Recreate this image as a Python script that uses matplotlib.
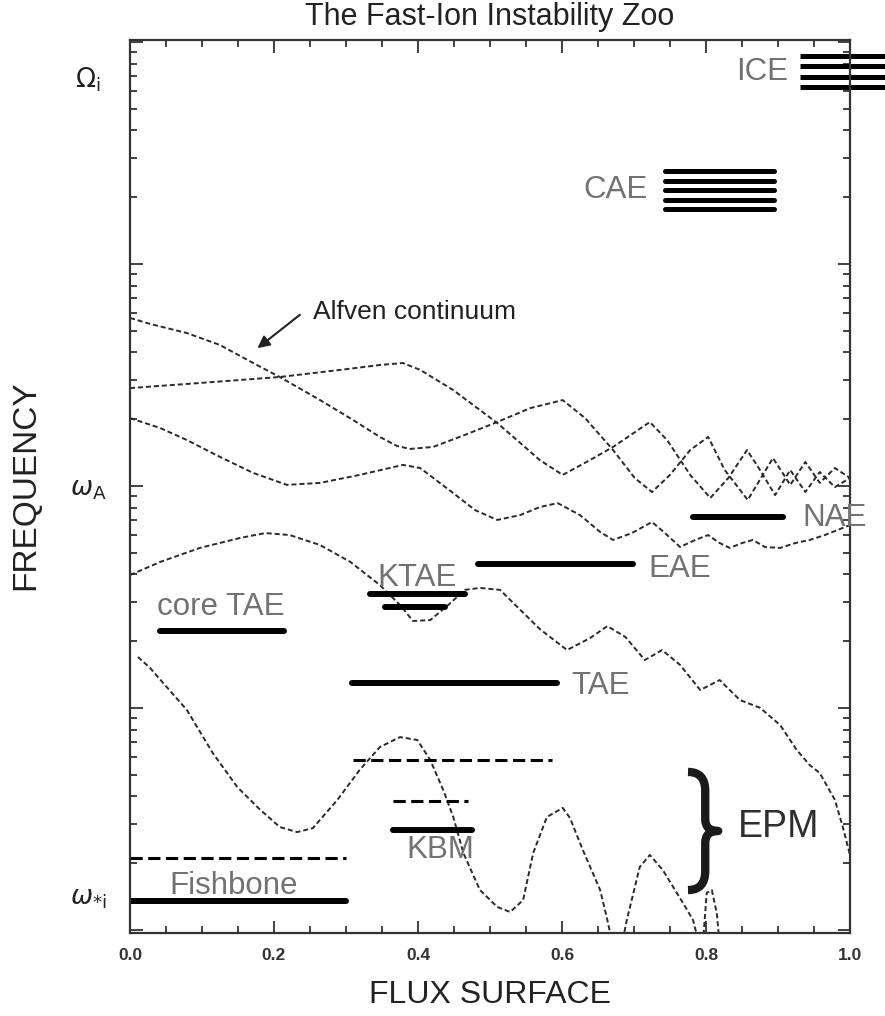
import numpy as np
import matplotlib
matplotlib.use("Agg")
import matplotlib.pyplot as plt
from matplotlib.path import Path
from matplotlib.patches import PathPatch
from matplotlib.transforms import Affine2D
from matplotlib.ticker import MultipleLocator, FixedLocator, LogLocator, NullFormatter

plt.rcParams['font.family'] = ['Liberation Sans', 'DejaVu Sans']
plt.rcParams['mathtext.fontset'] = 'dejavusans'

# ---------------- data (x = flux surface, y = log10 frequency, arbitrary units) -------------
alfven_a_x = [0.000, 0.028, 0.079, 0.125, 0.171, 0.208, 0.264, 0.310, 0.347, 0.371, 0.389, 0.421,
              0.465, 0.510, 0.556, 0.601, 0.632, 0.671, 0.701, 0.725, 0.750, 0.778, 0.803, 0.826,
              0.858, 0.893, 0.917, 0.938, 0.958, 0.979, 1.000]
alfven_a_l = [2.757, 2.730, 2.689, 2.635, 2.554, 2.491, 2.387, 2.297, 2.221, 2.180, 2.167, 2.176,
              2.230, 2.288, 2.351, 2.387, 2.306, 2.162, 2.036, 1.973, 2.050, 2.162, 2.221, 2.072,
              1.937, 2.126, 2.005, 2.108, 2.014, 2.081, 2.036]

alfven_b_x = [0.000, 0.097, 0.208, 0.292, 0.347, 0.379, 0.403, 0.449, 0.486, 0.510, 0.542, 0.569,
              0.601, 0.639, 0.671, 0.722, 0.746, 0.778, 0.806, 0.831, 0.857, 0.875, 0.896, 0.917,
              0.938, 0.958, 0.979, 1.000]
alfven_b_l = [2.441, 2.464, 2.491, 2.523, 2.545, 2.554, 2.523, 2.432, 2.342, 2.284, 2.194, 2.117,
              2.050, 2.117, 2.176, 2.288, 2.207, 2.050, 1.946, 2.036, 2.162, 2.072, 1.959, 2.072,
              1.973, 2.063, 1.995, 2.036]

alfven_c_x = [0.000, 0.042, 0.079, 0.125, 0.171, 0.218, 0.264, 0.319, 0.379, 0.403, 0.449, 0.479,
              0.510, 0.542, 0.569, 0.594, 0.625, 0.653, 0.671, 0.697, 0.725, 0.743, 0.764, 0.785,
              0.803, 0.819, 0.833, 0.850, 0.865, 0.882, 0.903, 0.924, 0.944, 0.965, 1.000]
alfven_c_l = [2.306, 2.261, 2.207, 2.131, 2.059, 2.005, 2.014, 2.050, 2.095, 2.081, 1.968, 1.892,
              1.847, 1.869, 1.905, 1.923, 1.869, 1.793, 1.757, 1.788, 1.838, 1.788, 1.725, 1.757,
              1.779, 1.743, 1.721, 1.743, 1.757, 1.725, 1.721, 1.743, 1.757, 1.779, 1.824]

tae_gap_x = [0.000, 0.042, 0.097, 0.153, 0.188, 0.222, 0.264, 0.306, 0.347, 0.375, 0.393, 0.417,
             0.442, 0.465, 0.486, 0.514, 0.538, 0.569, 0.607, 0.639, 0.663, 0.688, 0.715, 0.739,
             0.764, 0.792, 0.819, 0.847, 0.875, 0.903, 0.926, 0.944, 0.958, 0.979, 0.990, 1.000]
tae_gap_l = [1.599, 1.658, 1.721, 1.766, 1.788, 1.779, 1.734, 1.658, 1.554, 1.464, 1.392, 1.396,
             1.464, 1.532, 1.541, 1.532, 1.455, 1.356, 1.261, 1.315, 1.369, 1.320, 1.216, 1.261,
             1.194, 1.081, 1.126, 1.036, 1.001, 0.923, 0.811, 0.743, 0.707, 0.586, 0.464, 0.338]

low_x = [0.011, 0.028, 0.046, 0.079, 0.115, 0.149, 0.181, 0.208, 0.232, 0.254, 0.288, 0.319,
         0.347, 0.375, 0.399, 0.417, 0.435, 0.449, 0.463, 0.486, 0.510, 0.528, 0.546, 0.560,
         0.579, 0.601, 0.611, 0.629, 0.653, 0.663, 0.669, 0.683, 0.690, 0.708, 0.722, 0.740,
         0.768, 0.782, 0.789, 0.796, 0.801, 0.808, 0.815, 0.819]
low_l = [1.230, 1.180, 1.113, 0.991, 0.797, 0.644, 0.541, 0.464, 0.441, 0.459, 0.586, 0.721,
         0.824, 0.869, 0.856, 0.766, 0.631, 0.509, 0.347, 0.180, 0.104, 0.081, 0.135, 0.347,
         0.509, 0.550, 0.505, 0.360, 0.180, 0.045, -0.045, -0.068, 0.045, 0.284, 0.338, 0.270,
         0.122, 0.045, -0.045, -0.045, 0.167, 0.180, 0.077, -0.068]

# mode bands: (label, x0, x1, log10 level)
solid_bands = [
    ("NAE", 0.782, 0.907, 1.860),
    ("EAE", 0.483, 0.699, 1.649),
    ("KTAE", 0.333, 0.465, 1.514),
    ("KTAE", 0.354, 0.438, 1.455),
    ("core TAE", 0.042, 0.214, 1.347),
    ("TAE", 0.308, 0.593, 1.113),
    ("KBM", 0.365, 0.475, 0.450),
    ("Fishbone", 0.000, 0.300, 0.131),
]
dashed_bands = [
    ("TAE-EPM", 0.310, 0.586, 0.766),
    ("KBM", 0.365, 0.470, 0.581),
    ("Fishbone", 0.000, 0.300, 0.324),
]
cae_levels = [3.419, 3.374, 3.333, 3.288, 3.248]
cae_x = [0.743, 0.894]
ice_levels = [3.937, 3.892, 3.842, 3.797]
ice_x = [0.931, 1.049]

# labels: (text, x, log10 level)
mode_labels = [
    ("ICE", 0.878, 3.865), ("CAE", 0.674, 3.333), ("NAE", 0.978, 1.856),
    ("EAE", 0.764, 1.626), ("KTAE", 0.399, 1.586), ("core TAE", 0.126, 1.455),
    ("TAE", 0.653, 1.099), ("KBM", 0.431, 0.360), ("Fishbone", 0.144, 0.198),
]
freq_labels = [(r'$\Omega_\mathrm{i}$', 3.83), (r'$\omega_\mathrm{A}$', 1.98), (r'$\omega_{*\mathrm{i}}$', 0.14)]
x_ticks = [0.0, 0.2, 0.4, 0.6, 0.8, 1.0]
x_tick_labels = ["0.0", "0.2", "0.4", "0.6", "0.8", "1.0"]

# EPM brace: x0, x1, log10 bottom, log10 top
brace = [0.775, 0.817, 0.180, 0.712]

# ---------------- figure -------------------------------------------------------------------
fig = plt.figure(figsize=(8.85, 10.16), dpi=100)
ax = fig.add_axes([130/885, 83/1016, 720/885, 893/1016])
ax.set_yscale('log')
ax.set_xlim(0, 1)
ax.set_ylim(10**(-0.0135), 10**4.009)

p = lambda l: 10.0 ** np.asarray(l)
curve_kw = dict(color='#2a2a2a', lw=1.4, linestyle=(0, (2.6, 1.5)))
for xs, ls in [(alfven_a_x, alfven_a_l), (alfven_b_x, alfven_b_l), (alfven_c_x, alfven_c_l),
               (tae_gap_x, tae_gap_l), (low_x, low_l)]:
    ax.plot(xs, p(ls), **curve_kw)

for _, x0, x1, l in solid_bands:
    ax.plot([x0, x1], p([l, l]), color='black', lw=4.3, solid_capstyle='round')
for _, x0, x1, l in dashed_bands:
    ax.plot([x0, x1], p([l, l]), color='black', lw=2.2, linestyle=(0, (4, 1.8)))
for l in cae_levels:
    ax.plot(cae_x, p([l, l]), color='black', lw=3.6, solid_capstyle='round')
for l in ice_levels:
    ax.plot(ice_x, p([l, l]), color='black', lw=3.6, solid_capstyle='butt', clip_on=False)

gray = '#727272'
for t, x, l in mode_labels:
    ax.text(x, p(l), t, color=gray, fontsize=22.5, ha='center', va='center')
ax.text(0.901, p(0.464), "EPM", color='#2e2e2e', fontsize=27, ha='center', va='center')

ax.text(0.254, p(2.784), "Alfven continuum", color='#222222', fontsize=19, ha='left', va='center')
ax.annotate("", xy=(0.174, p(2.613)), xytext=(0.239, p(2.779)),
            arrowprops=dict(arrowstyle='-|>', color='#222222', lw=1.5, mutation_scale=18))

# curly brace for EPM
bx0, bx1, bl0, bl1 = brace
verts = [(0, 1), (0.57, 1), (0.57, 0.84), (0.57, 0.6), (0.57, 0.5), (1, 0.5),
         (0.57, 0.5), (0.57, 0.4), (0.57, 0.16), (0.57, 0), (0, 0)]
codes = [Path.MOVETO, Path.CURVE3, Path.CURVE3, Path.LINETO, Path.CURVE3, Path.CURVE3,
         Path.CURVE3, Path.CURVE3, Path.LINETO, Path.CURVE3, Path.CURVE3]
tr = Affine2D().scale(bx1 - bx0, bl1 - bl0).translate(bx0, bl0) + ax.transLimits + ax.transAxes
ax.add_patch(PathPatch(Path(verts, codes), transform=tr, fill=False, lw=6, ec='#1a1a1a',
                       capstyle='butt', joinstyle='round'))

# axes styling
for s in ax.spines.values():
    s.set_linewidth(1.6)
    s.set_color('#333333')
ax.xaxis.set_major_locator(FixedLocator(x_ticks))
ax.xaxis.set_minor_locator(MultipleLocator(0.05))
ax.set_xticklabels(x_tick_labels)
ax.yaxis.set_major_locator(LogLocator(base=10, numticks=10))
ax.yaxis.set_minor_locator(LogLocator(base=10, subs=np.arange(2, 10), numticks=20))
ax.yaxis.set_major_formatter(NullFormatter())
ax.yaxis.set_minor_formatter(NullFormatter())
ax.tick_params(which='both', direction='in', top=True, right=True, color='#333333', width=1.3)
ax.tick_params(which='major', length=9)
ax.tick_params(which='minor', length=5)
ax.tick_params(axis='x', which='major', pad=11, labelsize=12.5, labelcolor='#333333')
for lab in ax.get_xticklabels():
    lab.set_fontweight('bold')

ytr = ax.get_yaxis_transform()
for t, l in freq_labels:
    ax.text(-0.058, p(l), t, transform=ytr, fontsize=19, ha='center', va='center', color='#222222')

fig.text(490/885, 1 - 995/1016, "FLUX SURFACE", fontsize=23, ha='center', va='center', color='#222222')
fig.text(26/885, 1 - 485/1016, "FREQUENCY", fontsize=24, rotation=90, ha='center', va='center',
         color='#222222')
fig.text(490/885, 1 - 17/1016, "The Fast-Ion Instability Zoo", fontsize=22, ha='center', va='center',
         color='#222222')

fig.savefig("out.png", dpi=100)
